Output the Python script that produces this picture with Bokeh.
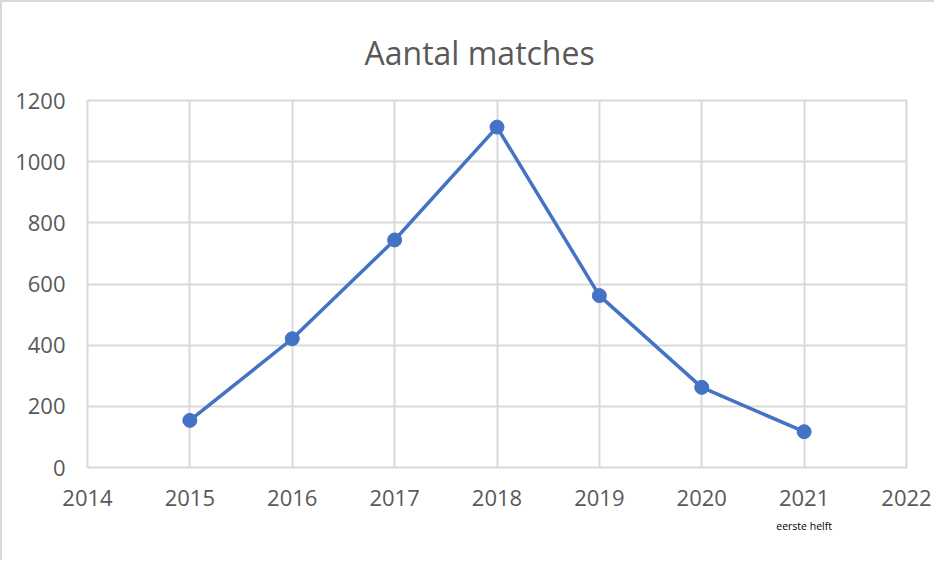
from bokeh.plotting import figure
from bokeh.models import FixedTicker, Range1d, LinearAxis, Title
from bokeh.embed import file_html
from bokeh.resources import INLINE

years = [2015, 2016, 2017, 2018, 2019, 2020, 2021]
matches = [154, 421, 744, 1113, 562, 262, 117]
x_ticks = [2014, 2015, 2016, 2017, 2018, 2019, 2020, 2021, 2022]
y_ticks = [0, 200, 400, 600, 800, 1000, 1200]
title_text = "Aantal matches"
note_year = 2021
note_text = "eerste helft"

FONT = "Open Sans"
GRAY = "#595959"
GRID = "#d9d9d9"
BLUE = "#4472C4"

p = figure(width=934, height=560, output_backend="svg", toolbar_location=None,
           x_range=Range1d(2014, 2022), y_range=Range1d(0, 1200),
           min_border_left=85, min_border_right=30, min_border_top=98, min_border_bottom=95)
p.styles = {"border-left": "2px solid #d9d9d9", "border-top": "2px solid #d9d9d9"}

p.title = Title(text=title_text, align="left", offset=277, standoff=53,
                text_font=FONT, text_font_size="32px", text_color=GRAY,
                text_font_style="normal", text_line_height=1.0)

p.line(years, matches, line_color=BLUE, line_width=3.5)
p.scatter(years, matches, size=14, fill_color=BLUE, line_color=BLUE)

p.xaxis.ticker = FixedTicker(ticks=x_ticks)
p.yaxis.ticker = FixedTicker(ticks=y_ticks)
for ax in (p.xaxis[0], p.yaxis[0]):
    ax.axis_line_color = None
    ax.major_tick_line_color = None
    ax.minor_tick_line_color = None
    ax.major_label_text_font = FONT
    ax.major_label_text_font_size = "22px"
    ax.major_label_text_color = GRAY
p.yaxis.major_label_standoff = 16
p.xaxis.major_label_standoff = 16

note_axis = LinearAxis(ticker=FixedTicker(ticks=[note_year]),
                       major_label_overrides={note_year: note_text},
                       axis_line_color=None, major_tick_line_color=None,
                       minor_tick_line_color=None, major_label_standoff=4,
                       major_label_text_font=FONT, major_label_text_font_size="10.5px",
                       major_label_text_color="#000000")
p.add_layout(note_axis, "below")

p.xgrid.grid_line_color = GRID
p.ygrid.grid_line_color = GRID
p.xgrid.grid_line_width = 2
p.ygrid.grid_line_width = 2
p.outline_line_color = GRID
p.outline_line_width = 2

open("out.html", "w").write(file_html(p, INLINE))
